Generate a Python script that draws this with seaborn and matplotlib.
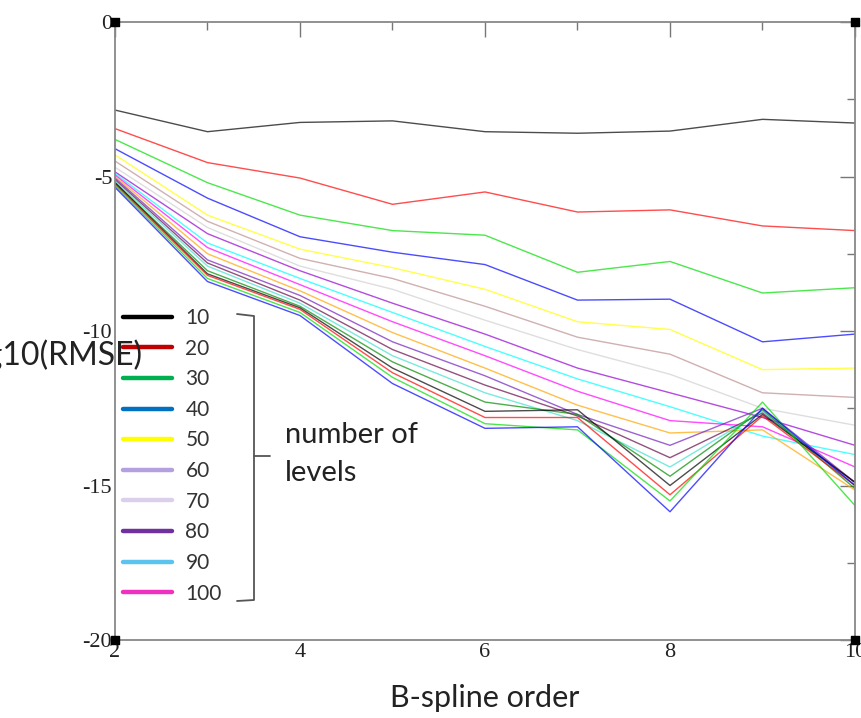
import numpy as np
import pandas as pd
import seaborn as sns
import matplotlib.pyplot as plt
from matplotlib.lines import Line2D

# B-spline order on the x axis
orders = [2, 3, 4, 5, 6, 7, 8, 9, 10]

# log10(RMSE) for each number of levels
lev10 = [-2.85, -3.55, -3.25, -3.2, -3.55, -3.6, -3.53, -3.15, -3.27]
lev20 = [-3.45, -4.55, -5.05, -5.9, -5.5, -6.15, -6.08, -6.6, -6.75]
lev30 = [-3.8, -5.2, -6.25, -6.75, -6.9, -8.1, -7.75, -8.77, -8.6]
lev40 = [-4.1, -5.7, -6.95, -7.45, -7.85, -9.0, -8.97, -10.35, -10.1]
lev50 = [-4.3, -6.25, -7.35, -7.95, -8.65, -9.7, -9.95, -11.25, -11.2]
lev60 = [-4.5, -6.45, -7.65, -8.3, -9.2, -10.2, -10.75, -12.0, -12.15]
lev70 = [-4.7, -6.65, -7.9, -8.65, -9.65, -10.6, -11.4, -12.5, -13.05]
lev80 = [-4.85, -6.85, -8.05, -9.1, -10.1, -11.2, -12.0, -12.8, -13.7]
lev90 = [-4.9, -7.15, -8.3, -9.4, -10.5, -11.55, -12.45, -13.4, -14.0]
lev100 = [-4.95, -7.3, -8.5, -9.7, -10.8, -11.95, -12.9, -13.1, -14.4]
lev110 = [-5.0, -7.5, -8.7, -10.05, -11.2, -12.4, -13.3, -13.2, -15.15]
lev120 = [-5.05, -7.7, -8.85, -10.35, -11.45, -12.7, -13.7, -12.5, -14.9]
lev130 = [-5.1, -7.8, -9.0, -10.6, -11.75, -12.75, -14.1, -12.65, -14.9]
lev140 = [-5.15, -7.9, -9.1, -10.8, -12.0, -12.9, -14.4, -12.6, -15.0]
lev150 = [-5.2, -8.05, -9.2, -11.0, -12.3, -12.7, -14.7, -12.55, -15.1]
lev160 = [-5.2, -8.15, -9.25, -11.2, -12.6, -12.55, -15.0, -12.7, -14.9]
lev170 = [-5.25, -8.2, -9.3, -11.35, -12.8, -12.8, -15.3, -12.75, -15.0]
lev180 = [-5.3, -8.3, -9.4, -11.5, -13.0, -13.2, -15.5, -12.3, -15.65]
lev190 = [-5.35, -8.4, -9.5, -11.7, -13.15, -13.1, -15.85, -12.5, -15.0]

levels = [10, 20, 30, 40, 50, 60, 70, 80, 90, 100,
          110, 120, 130, 140, 150, 160, 170, 180, 190]
series = [lev10, lev20, lev30, lev40, lev50, lev60, lev70, lev80, lev90, lev100,
          lev110, lev120, lev130, lev140, lev150, lev160, lev170, lev180, lev190]

# grace-like line colours, cycling
grace = ['#000000', '#ff0000', '#00dd00', '#0000ff', '#ffff00', '#bc8f8f',
         '#d0d0d0', '#9400d3', '#00ffff', '#ff00ff', '#ffa500', '#7221bc',
         '#670748', '#40e0d0', '#008b00']
line_cols = [grace[i % len(grace)] for i in range(len(levels))]

# pasted legend (only first ten levels)
leg_labels = ['10', '20', '30', '40', '50', '60', '70', '80', '90', '100']
leg_cols = ['#000000', '#c00000', '#00b050', '#0070c0', '#ffff00',
            '#b4a0de', '#dccfec', '#7030a0', '#5bc4ee', '#f030c0']

df = pd.DataFrame({
    'order': np.tile(orders, len(levels)),
    'rmse': np.concatenate(series),
    'level': np.repeat(levels, len(orders)),
})

sns.set_style('white')
plt.rcParams['font.family'] = ['Liberation Serif', 'DejaVu Serif']
plt.rcParams['axes.unicode_minus'] = False

fig = plt.figure(figsize=(8.62, 7.18), dpi=100)
ax = fig.add_axes([115/862, 1-640/718, 740/862, 618/718])

sns.lineplot(data=df, x='order', y='rmse', hue='level', palette=line_cols,
             ax=ax, linewidth=1.0, alpha=0.7, legend=False)

ax.set_xlim(2, 10)
ax.set_ylim(-20, 0)
ax.set_xticks([2, 4, 6, 8, 10])
ax.set_xticks([3, 5, 7, 9], minor=True)
ax.set_yticks([0, -5, -10, -15, -20])
ax.set_yticks([-2.5, -7.5, -12.5, -17.5], minor=True)
ax.tick_params(which='both', direction='in', top=True, right=True,
               color='#777777', labelsize=16, labelcolor='#222222')
ax.tick_params(which='major', length=11, width=1.0, pad=2)
ax.tick_params(which='minor', length=6, width=1.0)
for s in ax.spines.values():
    s.set_color('#888888')
    s.set_linewidth(1.3)
ax.set_xlabel('')
ax.set_ylabel('')

# little black squares at the corners
ax.scatter([0, 1, 0, 1], [0, 0, 1, 1], marker='s', s=40, color='black',
           transform=ax.transAxes, clip_on=False, zorder=5)

sans = ['Lato', 'DejaVu Sans']
fig.text(485/862, 1-698/718, 'B-spline order', ha='center', va='center',
         fontsize=22, family=sans, color='#222222')
fig.text(143/862, 1-355/718, 'log10(RMSE)', ha='right', va='center',
         fontsize=23, family=sans, color='#222222')

handles = [Line2D([], [], color=c, linewidth=3.2) for c in leg_cols]
leg = ax.legend(handles, leg_labels, loc='upper left',
                bbox_to_anchor=(123/862, 1-308/718), bbox_transform=fig.transFigure,
                frameon=False, borderpad=0, borderaxespad=0,
                handlelength=2.35, handletextpad=0.65, labelspacing=0.51,
                prop={'family': sans, 'size': 15})
for t in leg.get_texts():
    t.set_color('#333333')

# bracket with text
br = '#555555'
bx = [237/862, 254/862, 254/862, 237/862]
by = [1-314/718, 1-316/718, 1-600/718, 1-601/718]
fig.add_artist(Line2D(bx, by, color=br, linewidth=1.3))
fig.add_artist(Line2D([254/862, 270/862], [1-456/718, 1-456/718], color=br, linewidth=1.3))
fig.text(285/862, 1-435/718, 'number of', ha='left', va='center',
         fontsize=21, family=sans, color='#222222')
fig.text(285/862, 1-473/718, 'levels', ha='left', va='center',
         fontsize=21, family=sans, color='#222222')

fig.savefig('out.png', dpi=100)
